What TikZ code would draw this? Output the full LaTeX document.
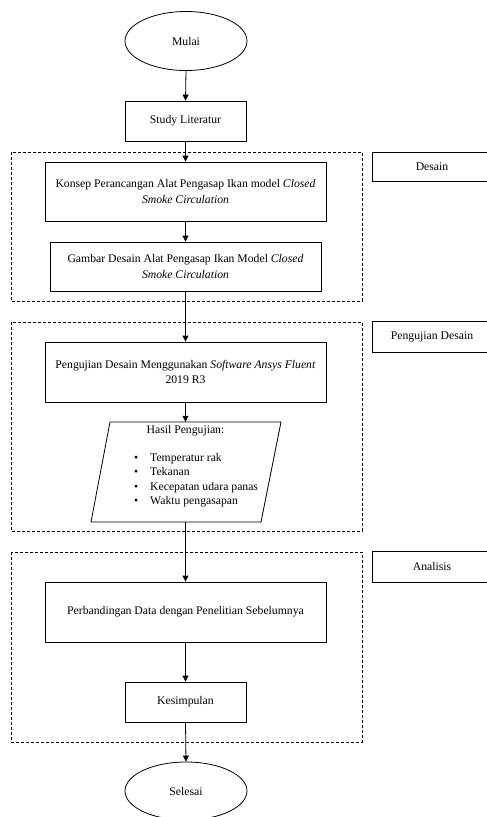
\documentclass[tikz,border=0pt]{standalone}
\usepackage{fontspec}
\setmainfont{Liberation Serif}
\usetikzlibrary{shapes.geometric,arrows.meta}
\begin{document}
\begin{tikzpicture}[x=1pt,y=-1pt,
  every node/.style={font=\fontsize{11.7}{15.5}\selectfont, inner sep=0pt},
  proc/.style={draw, line width=0.8pt, rectangle, align=center},
  term/.style={draw, line width=0.8pt, ellipse, minimum width=122pt, minimum height=59pt},
  grp/.style={draw, line width=0.6pt, dash pattern=on 3pt off 2pt},
  tag/.style={draw, line width=0.8pt, rectangle, minimum width=120pt},
  flow/.style={line width=0.8pt, -{Triangle[length=6pt,width=6pt]}}]
\useasboundingbox (0,0) rectangle (487,817);
\clip (0,0) rectangle (487,817);
\fill[white] (0,0) rectangle (487,817);

% group frames
\draw[grp] (11,152) rectangle (362,301);
\draw[grp] (11,322) rectangle (362,531);
\draw[grp] (11,552) rectangle (362,742);

% side labels
\node[tag, minimum height=29pt] (tdesain) at (432,166.5) {Desain};
\node[tag, minimum height=31pt] (tuji) at (432,336.5) {Pengujian Desain};
\node[tag, minimum height=31pt] (tanalisis) at (432,566.5) {Analisis};

% nodes
\node[term] (mulai) at (186,41) {Mulai};
\node[proc, minimum width=121pt, minimum height=40pt] (study) at (185.5,121) {Study Literatur};
\node[proc, minimum width=281pt, minimum height=59pt] (konsep) at (185.5,191.5)
  {Konsep Perancangan Alat Pengasap Ikan model \textit{Closed}\\\textit{Smoke Circulation}};
\node[proc, minimum width=271pt, minimum height=49pt] (gambar) at (185.5,266.5)
  {Gambar Desain Alat Pengasap Ikan Model \textit{Closed}\\\textit{Smoke Circulation}};
\node[proc, minimum width=281pt, minimum height=60pt] (uji) at (185.5,372)
  {Pengujian Desain Menggunakan \textit{Software Ansys Fluent}\\2019 R3};

% parallelogram (output)
\node[minimum width=190pt, minimum height=100pt] (hasil) at (186,472) {};
\draw[line width=0.8pt] (110,422) -- (281,422) -- (261,522) -- (91,522) -- cycle;
\node (hasiljudul) at (185.5,431) {Hasil Pengujian:};
\node[anchor=north west, align=left, font=\fontsize{11.7}{14.5}\selectfont] (hasillist) at (134,453)
  {\makebox[16pt][l]{\textbullet}Temperatur rak\\
   \makebox[16pt][l]{\textbullet}Tekanan\\
   \makebox[16pt][l]{\textbullet}Kecepatan udara panas\\
   \makebox[16pt][l]{\textbullet}Waktu pengasapan};

\node[proc, minimum width=281pt, minimum height=60pt] (banding) at (185.5,612)
  {Perbandingan Data dengan Penelitian Sebelumnya};
\node[proc, minimum width=121pt, minimum height=40pt] (simpul) at (185.5,702) {Kesimpulan};
\node[term, minimum height=58pt] (selesai) at (186,791) {Selesai};

% connectors
\draw[flow] (mulai.south) -- (study.north);
\draw[flow] (study.south) -- (konsep.north);
\draw[flow] (konsep.south) -- (gambar.north);
\draw[flow] (gambar.south) -- (uji.north);
\draw[flow] (uji.south) -- (uji.south |- hasil.north);
\draw[flow] (uji.south |- hasil.south) -- (banding.north);
\draw[flow] (banding.south) -- (simpul.north);
\draw[flow] (simpul.south) -- (selesai.north);
\end{tikzpicture}
\end{document}
